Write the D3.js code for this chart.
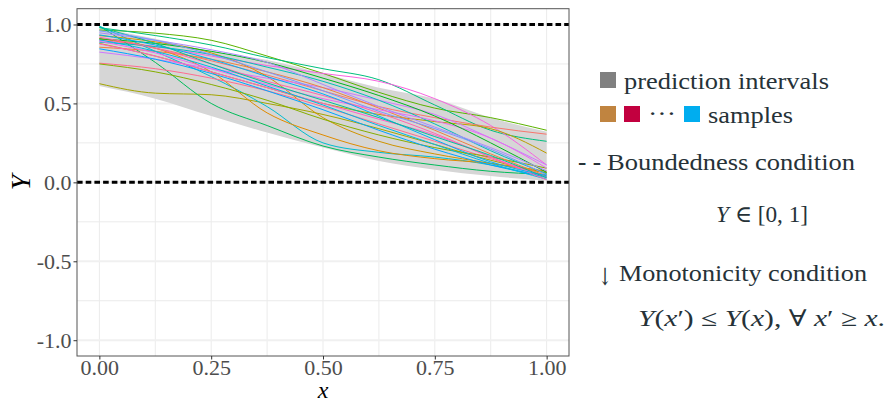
<!DOCTYPE html>
<html>
<head>
<meta charset="utf-8">
<script src="https://cdn.jsdelivr.net/npm/d3@7"></script>
<style>
	body { margin: 0; background: #fff; }
	svg { display: block; }
</style>
</head>
<body>
<svg></svg>
<script>
const width = 888
const height = 404

// grid positions along x where every series is sampled
const xs = [0, 0.125, 0.25, 0.375, 0.5, 0.625, 0.75, 0.875, 1]

// prediction interval band
const bandUpper = [0.98, 0.91, 0.83, 0.775, 0.69, 0.60, 0.53, 0.41, 0.32]
const bandLower = [0.61, 0.53, 0.42, 0.315, 0.22, 0.135, 0.08, 0.04, 0.01]

// sample paths, one row per sample
const samples = [
	[0.965, 0.945, 0.90, 0.80, 0.69, 0.57, 0.47, 0.41, 0.33],
	[0.98, 0.93, 0.87, 0.79, 0.72, 0.65, 0.49, 0.33, 0.26],
	[0.90, 0.86, 0.80, 0.74, 0.69, 0.64, 0.53, 0.36, 0.11],
	[0.91, 0.85, 0.77, 0.68, 0.58, 0.48, 0.41, 0.35, 0.305],
	[0.88, 0.80, 0.70, 0.60, 0.50, 0.43, 0.385, 0.34, 0.185],
	[0.625, 0.565, 0.555, 0.50, 0.43, 0.34, 0.24, 0.14, 0.06],
	[0.99, 0.76, 0.50, 0.36, 0.23, 0.16, 0.11, 0.07, 0.05],
	[0.99, 0.83, 0.67, 0.48, 0.25, 0.19, 0.16, 0.11, 0.03],
	[0.91, 0.85, 0.70, 0.44, 0.30, 0.20, 0.15, 0.12, 0.07],
	[0.93, 0.89, 0.82, 0.67, 0.41, 0.26, 0.18, 0.12, 0.06],
	[0.755, 0.72, 0.66, 0.58, 0.48, 0.37, 0.26, 0.15, 0.04],
	[0.75, 0.70, 0.62, 0.52, 0.40, 0.30, 0.22, 0.16, 0.09],
	[0.825, 0.78, 0.72, 0.66, 0.60, 0.52, 0.43, 0.28, 0.11],
	[0.846, 0.78, 0.69, 0.58, 0.46, 0.33, 0.21, 0.11, 0.035],
	[0.856, 0.83, 0.78, 0.70, 0.60, 0.47, 0.33, 0.18, 0.04],
	[0.877, 0.80, 0.70, 0.60, 0.50, 0.40, 0.30, 0.16, 0.03],
	[0.888, 0.86, 0.81, 0.73, 0.64, 0.52, 0.37, 0.20, 0.054],
	[0.894, 0.82, 0.72, 0.62, 0.53, 0.46, 0.39, 0.28, 0.09],
	[0.903, 0.83, 0.73, 0.61, 0.49, 0.36, 0.24, 0.12, 0.02],
	[0.909, 0.88, 0.83, 0.76, 0.66, 0.55, 0.42, 0.25, 0.063],
	[0.919, 0.85, 0.75, 0.64, 0.55, 0.44, 0.31, 0.16, 0.016],
	[0.934, 0.87, 0.78, 0.67, 0.56, 0.42, 0.27, 0.13, 0.042],
	[0.947, 0.90, 0.84, 0.76, 0.62, 0.48, 0.35, 0.22, 0.073],
	[0.982, 0.88, 0.75, 0.63, 0.52, 0.41, 0.29, 0.17, 0.029],
	[0.96, 0.90, 0.81, 0.70, 0.58, 0.45, 0.34, 0.21, 0.048]
]
// which hue of the palette each sample gets
const sampleHue = [7, 10, 21, 0, 4, 5, 9, 13, 2, 3, 24, 6, 19, 16, 1, 22, 12, 20, 14, 8, 23, 15, 18, 11, 17]

const xTicks = [0, 0.25, 0.5, 0.75, 1]
const xMinor = [0.125, 0.375, 0.625, 0.875]
const yTicks = [-1, -0.5, 0, 0.5, 1]
const yMinor = [-0.75, -0.25, 0.25, 0.75]
const bounds = [0, 1]

const panel = { left: 77, top: 8.7, right: 569, bottom: 356 }
const textColor = '#263238'
const serif = '"Liberation Serif", "DejaVu Serif", serif'

// ggplot style hue palette (polar LUV, l = 65, c = 100)
function hueColor(h) {
	const L = 65, C = 100
	const hr = h * Math.PI / 180
	const u = C * Math.cos(hr), v = C * Math.sin(hr)
	const Xn = 95.047, Yn = 100, Zn = 108.883
	const Y = Yn * Math.pow((L + 16) / 116, 3)
	const dn = Xn + 15 * Yn + 3 * Zn
	const up = u / (13 * L) + 4 * Xn / dn
	const vp = v / (13 * L) + 9 * Yn / dn
	const X = 9 * Y * up / (4 * vp) / 100
	const Z = Y * (12 - 3 * up - 20 * vp) / (4 * vp) / 100
	const y = Y / 100
	const gam = function (c) {
		c = c <= 0.0031308 ? 12.92 * c : 1.055 * Math.pow(c, 1 / 2.4) - 0.055
		return Math.round(255 * Math.max(0, Math.min(1, c)))
	}
	return d3.rgb(
		gam(3.2404542 * X - 1.5371385 * y - 0.4985314 * Z),
		gam(-0.9692660 * X + 1.8760108 * y + 0.0415560 * Z),
		gam(0.0556434 * X - 0.2040259 * y + 1.0572252 * Z)
	).formatHex()
}

const svg = d3.select('svg')
	.attr('width', width)
	.attr('height', height)

svg.append('rect')
	.attr('width', width)
	.attr('height', height)
	.attr('fill', '#fff')

const x = d3.scaleLinear().domain([-0.05, 1.05]).range([panel.left, panel.right])
const y = d3.scaleLinear().domain([-1.1, 1.1]).range([panel.bottom, panel.top])

// grid
const grid = svg.append('g')
grid.selectAll('line.ymin')
	.data(yMinor)
	.enter().append('line')
	.attr('x1', panel.left).attr('x2', panel.right)
	.attr('y1', d => y(d)).attr('y2', d => y(d))
	.attr('stroke', '#ebebeb').attr('stroke-width', 1)
grid.selectAll('line.xmin')
	.data(xMinor.concat(xTicks))
	.enter().append('line')
	.attr('y1', panel.top).attr('y2', panel.bottom)
	.attr('x1', d => x(d)).attr('x2', d => x(d))
	.attr('stroke', '#ebebeb').attr('stroke-width', 1)
grid.selectAll('line.ymaj')
	.data(yTicks)
	.enter().append('line')
	.attr('x1', panel.left).attr('x2', panel.right)
	.attr('y1', d => y(d)).attr('y2', d => y(d))
	.attr('stroke', '#f0f0f0').attr('stroke-width', 2)

// prediction band
const area = d3.area()
	.x((d, i) => x(xs[i]))
	.y0((d, i) => y(bandLower[i]))
	.y1((d, i) => y(bandUpper[i]))
	.curve(d3.curveMonotoneX)

svg.append('path')
	.attr('d', area(xs))
	.attr('fill', '#d6d6d6')

// samples
const line = d3.line()
	.x((d, i) => x(xs[i]))
	.y(d => y(d))
	.curve(d3.curveMonotoneX)

svg.append('g')
	.selectAll('path')
	.data(samples)
	.enter()
	.append('path')
	.attr('d', d => line(d))
	.attr('fill', 'none')
	.attr('stroke', (d, i) => hueColor(15 + 360 * sampleHue[i] / samples.length))
	.attr('stroke-width', 1)

// boundedness lines
svg.append('g')
	.selectAll('line')
	.data(bounds)
	.enter().append('line')
	.attr('x1', panel.left).attr('x2', panel.right)
	.attr('y1', d => y(d)).attr('y2', d => y(d))
	.attr('stroke', '#000')
	.attr('stroke-width', 3)
	.attr('stroke-dasharray', '5.6 3.1')

// panel border
svg.append('rect')
	.attr('x', panel.left).attr('y', panel.top)
	.attr('width', panel.right - panel.left)
	.attr('height', panel.bottom - panel.top)
	.attr('fill', 'none')
	.attr('stroke', '#555')
	.attr('stroke-width', 1)

// axes
svg.append('g')
	.attr('transform', 'translate(' + panel.left + ',0)')
	.call(d3.axisLeft(y).tickValues(yTicks).tickSize(3.5).tickPadding(2)
		.tickFormat(d => d.toFixed(1)))
svg.append('g')
	.attr('transform', 'translate(0,' + panel.bottom + ')')
	.call(d3.axisBottom(x).tickValues(xTicks).tickSize(3.5).tickPadding(0)
		.tickFormat(d => d.toFixed(2)))

svg.selectAll('.domain').remove()
svg.selectAll('.tick line').attr('stroke', '#333')
svg.selectAll('.tick text')
	.attr('fill', '#4d4d4d')
	.style('font-family', serif)
	.style('font-size', '22px')

svg.append('text')
	.attr('x', panel.left + (panel.right - panel.left) / 2)
	.attr('y', 398)
	.attr('text-anchor', 'middle')
	.style('font-family', serif)
	.style('font-style', 'italic')
	.style('font-size', '24px')
	.text('x')

svg.append('text')
	.attr('transform', 'translate(30,' + (panel.top + panel.bottom) / 2 + ') rotate(-90)')
	.attr('text-anchor', 'middle')
	.style('font-family', serif)
	.style('font-style', 'italic')
	.style('font-size', '28px')
	.text('Y')

// legend / annotation
const legend = svg.append('g')
	.style('font-family', serif)
	.style('font-size', '23px')
	.attr('fill', textColor)

const swatches = [
	{ x: 600, y: 72, c: '#808080' },
	{ x: 600, y: 106, c: '#c08440' },
	{ x: 624, y: 106, c: '#c2003f' },
	{ x: 684, y: 106, c: '#00adef' }
]
legend.selectAll('rect')
	.data(swatches)
	.enter().append('rect')
	.attr('x', d => d.x).attr('y', d => d.y)
	.attr('width', 16).attr('height', 16)
	.attr('fill', d => d.c)

function label(tx, ty, len, parts, size, family) {
	const t = legend.append('text')
		.attr('x', tx).attr('y', ty)
	if (len) {
		t.attr('textLength', len)
			.attr('lengthAdjust', 'spacingAndGlyphs')
	}
	if (size) t.style('font-size', size + 'px')
	if (family) t.style('font-family', family)
	parts.forEach(function (p) {
		t.append('tspan')
			.style('font-style', p[1] ? 'italic' : 'normal')
			.text(p[0])
	})
	return t
}

label(624, 89, 205, [['prediction intervals']])
label(648, 121, 28, [['\u00b7\u00b7\u00b7']])
label(708, 123, 85, [['samples']])
label(578, 170, 23, [['- -']]).style('font-weight', 'bold')
label(607, 170, 248, [['Boundedness condition']])
label(716, 222, 92, [['Y', true], [' \u2208 [0, 1]']])
label(598, 285, 14, [['\u2193']], 24, '"DejaVu Serif", serif')
label(619, 281, 248, [['Monotonicity condition']])
label(638, 326, 247, [['Y', true], ['('], ['x', true], ['\u2032) \u2264 '], ['Y', true], ['('], ['x', true], ['),  \u2200 '], ['x', true], ['\u2032 \u2265 '], ['x', true], ['.']])
</script>
</body>
</html>
